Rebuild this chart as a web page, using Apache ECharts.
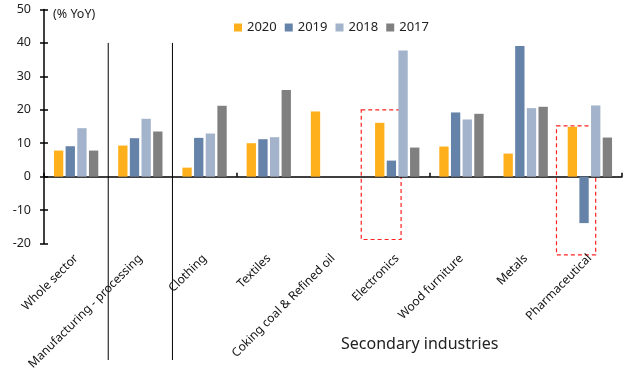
<!DOCTYPE html>
<html><head><meta charset="utf-8">
<script src="https://cdn.jsdelivr.net/npm/echarts@6/dist/echarts.min.js"></script>
<style>html,body{margin:0;padding:0;background:#fff}#c{width:629px;height:378px}</style>
</head><body><div id="c"></div>
<script>
var categories = ["Whole sector","Manufacturing - processing","Clothing","Textiles","Coking coal & Refined oil","Electronics","Wood furniture","Metals","Pharmaceutical"];
var s2020 = [7.8, 9.3, 2.7, 10.0, 19.5, 16.1, 9.0, 6.9, 14.9];
var s2019 = [9.1, 11.5, 11.6, 11.2, null, 4.8, 19.2, 39.1, -13.9];
var s2018 = [14.5, 17.3, 12.9, 11.8, null, 37.7, 17.1, 20.5, 21.3];
var s2017 = [7.8, 13.5, 21.2, 25.9, null, 8.7, 18.8, 20.9, 11.7];
var yTicks = {min: -20, max: 50, interval: 10};

var FONT = '"Noto Sans", sans-serif';
var chart = echarts.init(document.getElementById('c'), null, {renderer: 'canvas'});
function mk(name, data, color) {
  return {name: name, type: 'bar', data: data, xAxisIndex: 0, yAxisIndex: 0, barGap: '25%', barCategoryGap: '31%',
    itemStyle: {color: color}, emphasis: {disabled: true}};
}
chart.setOption({
  animation: false,
  grid: {left: 44, right: 7, top: 9.5, bottom: 134.5, containLabel: false},
  title: {text: 'Secondary industries', left: 336, top: 331,
    textStyle: {fontFamily: FONT, fontSize: 16, fontWeight: 'normal', color: '#222'}},
  legend: {top: 16, left: 229, itemWidth: 8, itemHeight: 8, itemGap: 8,
    textStyle: {fontFamily: FONT, fontSize: 13, color: '#222'},
    data: ['2020','2019','2018','2017'], icon: 'rect'},
  xAxis: [
    {type: 'category', data: categories, position: 'bottom',
      axisLine: {onZero: true, lineStyle: {color: '#000', width: 1.5}},
      axisTick: {show: true, inside: true, length: 4, lineStyle: {color: '#000', width: 1.5}},
      axisLabel: {show: false}},
    {type: 'category', data: categories, position: 'bottom',
      axisLine: {show: false, onZero: false}, axisTick: {show: false},
      axisLabel: {show: true, rotate: 45, margin: 13, interval: 0,
        fontFamily: FONT, fontSize: 12, color: '#111'}}
  ],
  yAxis: [
    {type: 'value', min: yTicks.min, max: yTicks.max, interval: yTicks.interval,
      axisLine: {show: true, lineStyle: {color: '#000', width: 1.5}},
      axisTick: {show: true, length: 4, lineStyle: {color: '#000', width: 1.5}},
      splitLine: {show: false},
      axisLabel: {fontFamily: FONT, fontSize: 12.5, color: '#222', margin: 13}},
    {type: 'value', position: 'left', min: yTicks.min, max: yTicks.max, interval: yTicks.interval,
      axisLine: {show: false, onZero: false},
      axisTick: {show: true, inside: true, length: 4, lineStyle: {color: '#000', width: 1.5}},
      splitLine: {show: false}, axisLabel: {show: false}}
  ],
  series: [mk('2020', s2020, '#FDB01B'), mk('2019', s2019, '#6583A8'),
           mk('2018', s2018, '#A3B3CB'), mk('2017', s2017, '#808080')]
});

function px(ci, v) { return chart.convertToPixel({xAxisIndex: 0, yAxisIndex: 0}, [ci, v]); }
var band = px(1, 0)[0] - px(0, 0)[0];
var els = [{type: 'text', left: 53, top: 8,
    style: {text: '(% YoY)', fontFamily: FONT, fontSize: 12.5, fill: '#222'}}];
[0, 1].forEach(function (i) {
  var x = px(i, 0)[0] + band / 2;
  var yt = px(i, 40)[1];
  els.push({type: 'line', shape: {x1: x, y1: yt, x2: x, y2: 360},
    style: {stroke: '#000', lineWidth: 1}});
});
function box(ci, l, r, top, bot) {
  var c = px(ci, 0)[0];
  var yt = px(ci, top)[1], yb = px(ci, bot)[1];
  els.push({type: 'rect', shape: {x: c + l * band, y: yt, width: (r - l) * band, height: yb - yt},
    style: {fill: 'none', stroke: '#F22', lineWidth: 1.2, lineDash: [4, 3]}});
}
box(5, -0.56, 0.06, 20, -18.8);
box(8, -0.52, 0.09, 15.2, -23.4);
chart.setOption({graphic: els});
</script></body></html>
